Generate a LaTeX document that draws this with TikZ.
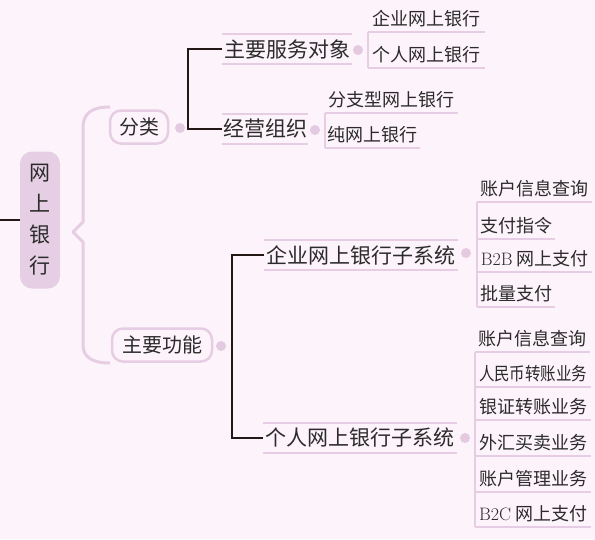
\documentclass[tikz,border=0pt]{standalone}
\usepackage{fontspec}
\usepackage{graphicx}
\newfontfamily\cjk{Noto Sans CJK SC}
\definecolor{bg}{HTML}{FDF3FA}
\definecolor{pl}{HTML}{E6CDE3}
\definecolor{rootfill}{HTML}{E6CFE4}
\definecolor{dotc}{HTML}{E4CAE1}
\definecolor{txt}{HTML}{2B2B2B}
\definecolor{blk}{HTML}{231815}
\begin{document}
\begin{tikzpicture}[x=1pt,y=-1pt,
 pline/.style={draw=pl, line width=2pt},
 bline/.style={draw=blk, line width=2.2pt},
 dotn/.style={circle, fill=dotc, inner sep=0pt, minimum size=10pt},
 leaf/.style={font=\cjk\fontsize{18}{18}\selectfont, text=txt, inner sep=0pt, anchor=south west, minimum height=26pt},
 midn/.style={font=\cjk\fontsize{21}{21}\selectfont, text=txt, inner sep=0pt, minimum height=29pt},
 catn/.style={font=\cjk\fontsize{20}{20}\selectfont, text=txt, draw=pl, line width=2.5pt, rounded corners=11pt, inner sep=0pt, minimum height=33pt},
 rootn/.style={font=\cjk\fontsize{21}{31}\selectfont, text=txt, fill=rootfill, rounded corners=12pt, inner sep=0pt, minimum width=40pt, minimum height=137pt, align=center}
]
\fill[bg] (0,0) rectangle (595,539);
\useasboundingbox (0,0) rectangle (595,539);

% root
\node[rootn] (root) at (40,220) {网\\上\\银\\行};
\coordinate (lin) at (0,220);
\draw[bline] (lin) -- (root.west);

% brace
\draw[pl, line width=3pt, line join=round]
  (110,107) .. controls (92,107) and (83,113) .. (83,128) -- (83,222) -- (73,232) -- (83,242)
  -- (83,345) .. controls (83,357) and (92,363) .. (110,363);

% categories
\node[catn, minimum width=58pt] (fl) at (139,127) {分类};
\node[dotn] (dfl) at (180,128) {};
\node[catn, minimum width=100pt] (gn) at (162,345) {主要功能};
\node[dotn] (dgn) at (221,346) {};

% second level
\node[midn, minimum width=130pt] (zy) at (287,49) {主要服务对象};
\node[dotn] (dzy) at (358,50) {};
\node[midn, minimum width=86pt] (jy) at (265,129) {经营组织};
\node[dotn] (djy) at (315,130) {};
\node[midn, minimum width=194pt] (qy) at (361,255) {企业网上银行子系统};
\node[dotn] (dqy) at (466,253) {};
\node[midn, minimum width=193pt] (gr) at (360,438) {个人网上银行子系统};
\node[dotn] (dgr) at (465,438) {};

\foreach \n in {zy,jy,qy,gr}{
  \draw[pline] (\n.north west) -- (\n.north east) (\n.south west) -- (\n.south east);
}

\coordinate (bus1) at (188,90);
\draw[bline] (zy.west) -| (bus1) |- (jy.west);
\coordinate (bus2) at (232,345);
\draw[bline] (qy.west) -| (bus2) |- (gr.west);

% leaves of zy
\node[leaf, minimum width=117pt] (a1) at (368,32) {企业网上银行};
\node[leaf, minimum width=117pt] (a2) at (368,68) {个人网上银行};
% leaves of jy
\node[leaf, minimum width=133pt] (b1) at (325,113) {分支型网上银行};
\node[leaf, minimum width=95pt] (b2) at (325,148) {纯网上银行};
% leaves of qy
\node[leaf, minimum width=115pt] (c1) at (477,202) {账户信息查询};
\node[leaf, minimum width=78pt] (c2) at (477,239) {支付指令};
\node[leaf, minimum width=115pt] (c3) at (477,272) {{\rmfamily B2B} 网上支付};
\node[leaf, minimum width=78pt] (c4) at (477,307) {批量支付};
% leaves of gr
\node[leaf, minimum width=115pt] (e1) at (475,352) {账户信息查询};
\node[leaf, minimum width=116pt] (e2) at (475,387) {\scalebox{0.86}[1]{人民币转账业务}};
\node[leaf, minimum width=116pt] (e3) at (475,420) {银证转账业务};
\node[leaf, minimum width=116pt] (e4) at (475,456) {外汇买卖业务};
\node[leaf, minimum width=116pt] (e5) at (475,492) {账户管理业务};
\node[leaf, minimum width=116pt] (e6) at (475,527) {{\rmfamily B2C} 网上支付};

\foreach \n in {a1,a2,b1,b2,c1,c2,c3,c4,e1,e2,e3,e4,e5,e6}{
  \draw[pline] (\n.south west) -- (\n.south east);
}
\draw[pline] (a1.south west) -- (a2.south west);
\draw[pline] (b1.south west) -- (b2.south west);
\draw[pline] (c1.south west) -- (c4.south west);
\draw[pline] (e1.south west) -- (e6.south west);
\end{tikzpicture}
\end{document}
